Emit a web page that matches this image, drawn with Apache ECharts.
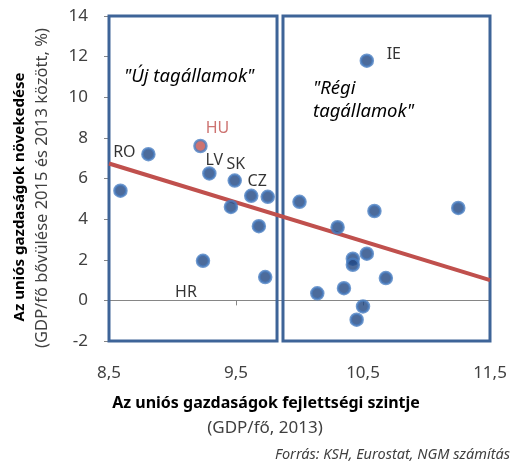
<!DOCTYPE html>
<html>
<head>
<meta charset="utf-8">
<script src="https://cdn.jsdelivr.net/npm/echarts@6/dist/echarts.min.js"></script>
<style>
  html, body { margin: 0; padding: 0; background: #fff; }
  #chart { width: 517px; height: 466px; }
</style>
</head>
<body>
<div id="chart"></div>
<script>
// GDP/fő szint (2013) és bővülés (2013-2015, %)
const gdpLevel = [8.81, 8.59, 9.22, 9.29, 9.49, 9.62, 9.75, 9.46, 9.68, 9.24, 9.73, 10.00,
                  10.59, 11.25, 10.30, 10.53, 10.42, 10.42, 10.68, 10.35, 10.14, 10.50, 10.45, 10.53]
const gdpGrowth = [7.2, 5.4, 7.6, 6.25, 5.9, 5.15, 5.1, 4.6, 3.65, 1.95, 1.15, 4.85,
                   4.4, 4.55, 3.6, 2.3, 2.05, 1.75, 1.1, 0.6, 0.35, -0.3, -0.95, 11.8]
const countryLabels = ['RO', '', 'HU', 'LV', 'SK', 'CZ', '', '', '', 'HR', '', '',
                       '', '', '', '', '', '', '', '', '', '', '', 'IE']
const trendX = [8.5, 11.5]
const trendY = [6.74, 1.0]
const boxLeftX = [8.5, 9.823]
const boxRightX = [9.87, 11.5]
const yTicks = [-2, 14]
const xTicks = [8.5, 11.5]

const labelStyles = {
  RO: { offset: [-24, -2] },
  HU: { offset: [17, -18], color: '#c0504d' },
  LV: { offset: [5, -13] },
  SK: { offset: [1, -16] },
  CZ: { offset: [6, -14] },
  HR: { offset: [-17, 32] },
  IE: { offset: [27, -6] }
}

const font = 'Noto Sans'
const boxColor = '#3e6498'
const red = '#c0504d'

let points = gdpLevel.map((x, i) => {
  let name = countryLabels[i]
  let item = { value: [x, gdpGrowth[i]], name: name }
  if (name) {
    let st = labelStyles[name]
    item.label = {
      show: true,
      formatter: name,
      position: 'inside',
      offset: st.offset,
      color: st.color || '#000',
      textBorderWidth: 0,
      fontFamily: font,
      fontSize: 16
    }
  }
  if (name === 'HU') {
    item.itemStyle = { color: red }
  }
  return item
})

let myChart = echarts.init(document.getElementById('chart'))

let option = {
  animation: false,
  grid: { left: 109, right: 27, top: 16, bottom: 125 },
  xAxis: {
    type: 'value',
    min: xTicks[0],
    max: xTicks[1],
    interval: 1,
    splitLine: { show: false },
    axisLine: { lineStyle: { color: '#868686' } },
    axisTick: { show: true, length: 5, lineStyle: { color: '#868686' } },
    axisLabel: {
      color: '#404040', fontFamily: font, fontSize: 17, margin: 24,
      formatter: v => String(v).replace('.', ',')
    }
  },
  yAxis: {
    type: 'value',
    min: yTicks[0],
    max: yTicks[1],
    interval: 2,
    splitLine: { show: false },
    axisLine: { show: true, lineStyle: { color: '#868686' } },
    axisTick: { show: true, length: 5, lineStyle: { color: '#868686' } },
    axisLabel: { color: '#404040', fontFamily: font, fontSize: 17, margin: 21 }
  },
  series: [
    {
      type: 'line',
      data: [],
      z: 1,
      markArea: {
        silent: true,
        itemStyle: { color: 'rgba(0,0,0,0)', borderColor: boxColor, borderWidth: 3 },
        data: [
          [{ coord: [boxLeftX[0], yTicks[0]] }, { coord: [boxLeftX[1], yTicks[1]] }],
          [{ coord: [boxRightX[0], yTicks[0]] }, { coord: [boxRightX[1], yTicks[1]] }]
        ]
      }
    },
    {
      type: 'line',
      data: trendX.map((x, i) => [x, trendY[i]]),
      symbol: 'none',
      z: 2,
      lineStyle: { color: red, width: 4 }
    },
    {
      type: 'scatter',
      data: points,
      symbolSize: 12,
      z: 3,
      itemStyle: { color: '#1f4682', borderColor: '#4a7ec2', borderWidth: 2.5 }
    }
  ],
  graphic: [
    {
      type: 'text', left: 124, top: 67,
      style: { text: '"Új tagállamok"', font: 'italic 18.5px "Noto Sans"', fill: '#000' }
    },
    {
      type: 'text', left: 313, top: 77,
      style: { text: '"Régi\ntagállamok"', font: 'italic 18.5px "Noto Sans"', fill: '#000', lineHeight: 23 }
    },
    {
      type: 'text', x: 20, y: 197, rotation: Math.PI / 2,
      style: {
        text: 'Az uniós gazdaságok növekedése', font: 'bold 15px "Noto Sans"',
        fill: '#000', textAlign: 'center', textVerticalAlign: 'middle'
      }
    },
    {
      type: 'text', x: 42, y: 188, rotation: Math.PI / 2,
      style: {
        text: '(GDP/fő bővülése 2015 és 2013 között, %)', font: '16.5px "Noto Sans"',
        fill: '#404040', textAlign: 'center', textVerticalAlign: 'middle'
      }
    },
    {
      type: 'text', x: 266, y: 403,
      style: {
        text: 'Az uniós gazdaságok fejlettségi szintje', font: 'bold 16px "Noto Sans"',
        fill: '#000', textAlign: 'center', textVerticalAlign: 'middle'
      }
    },
    {
      type: 'text', x: 265, y: 428,
      style: {
        text: '(GDP/fő, 2013)', font: '17px "Noto Sans"',
        fill: '#404040', textAlign: 'center', textVerticalAlign: 'middle'
      }
    },
    {
      type: 'text', x: 510, y: 455,
      style: {
        text: 'Forrás: KSH, Eurostat, NGM számítás', font: 'italic 14.5px "Noto Sans"',
        fill: '#404040', textAlign: 'right', textVerticalAlign: 'middle'
      }
    }
  ]
}

myChart.setOption(option)
</script>
</body>
</html>
